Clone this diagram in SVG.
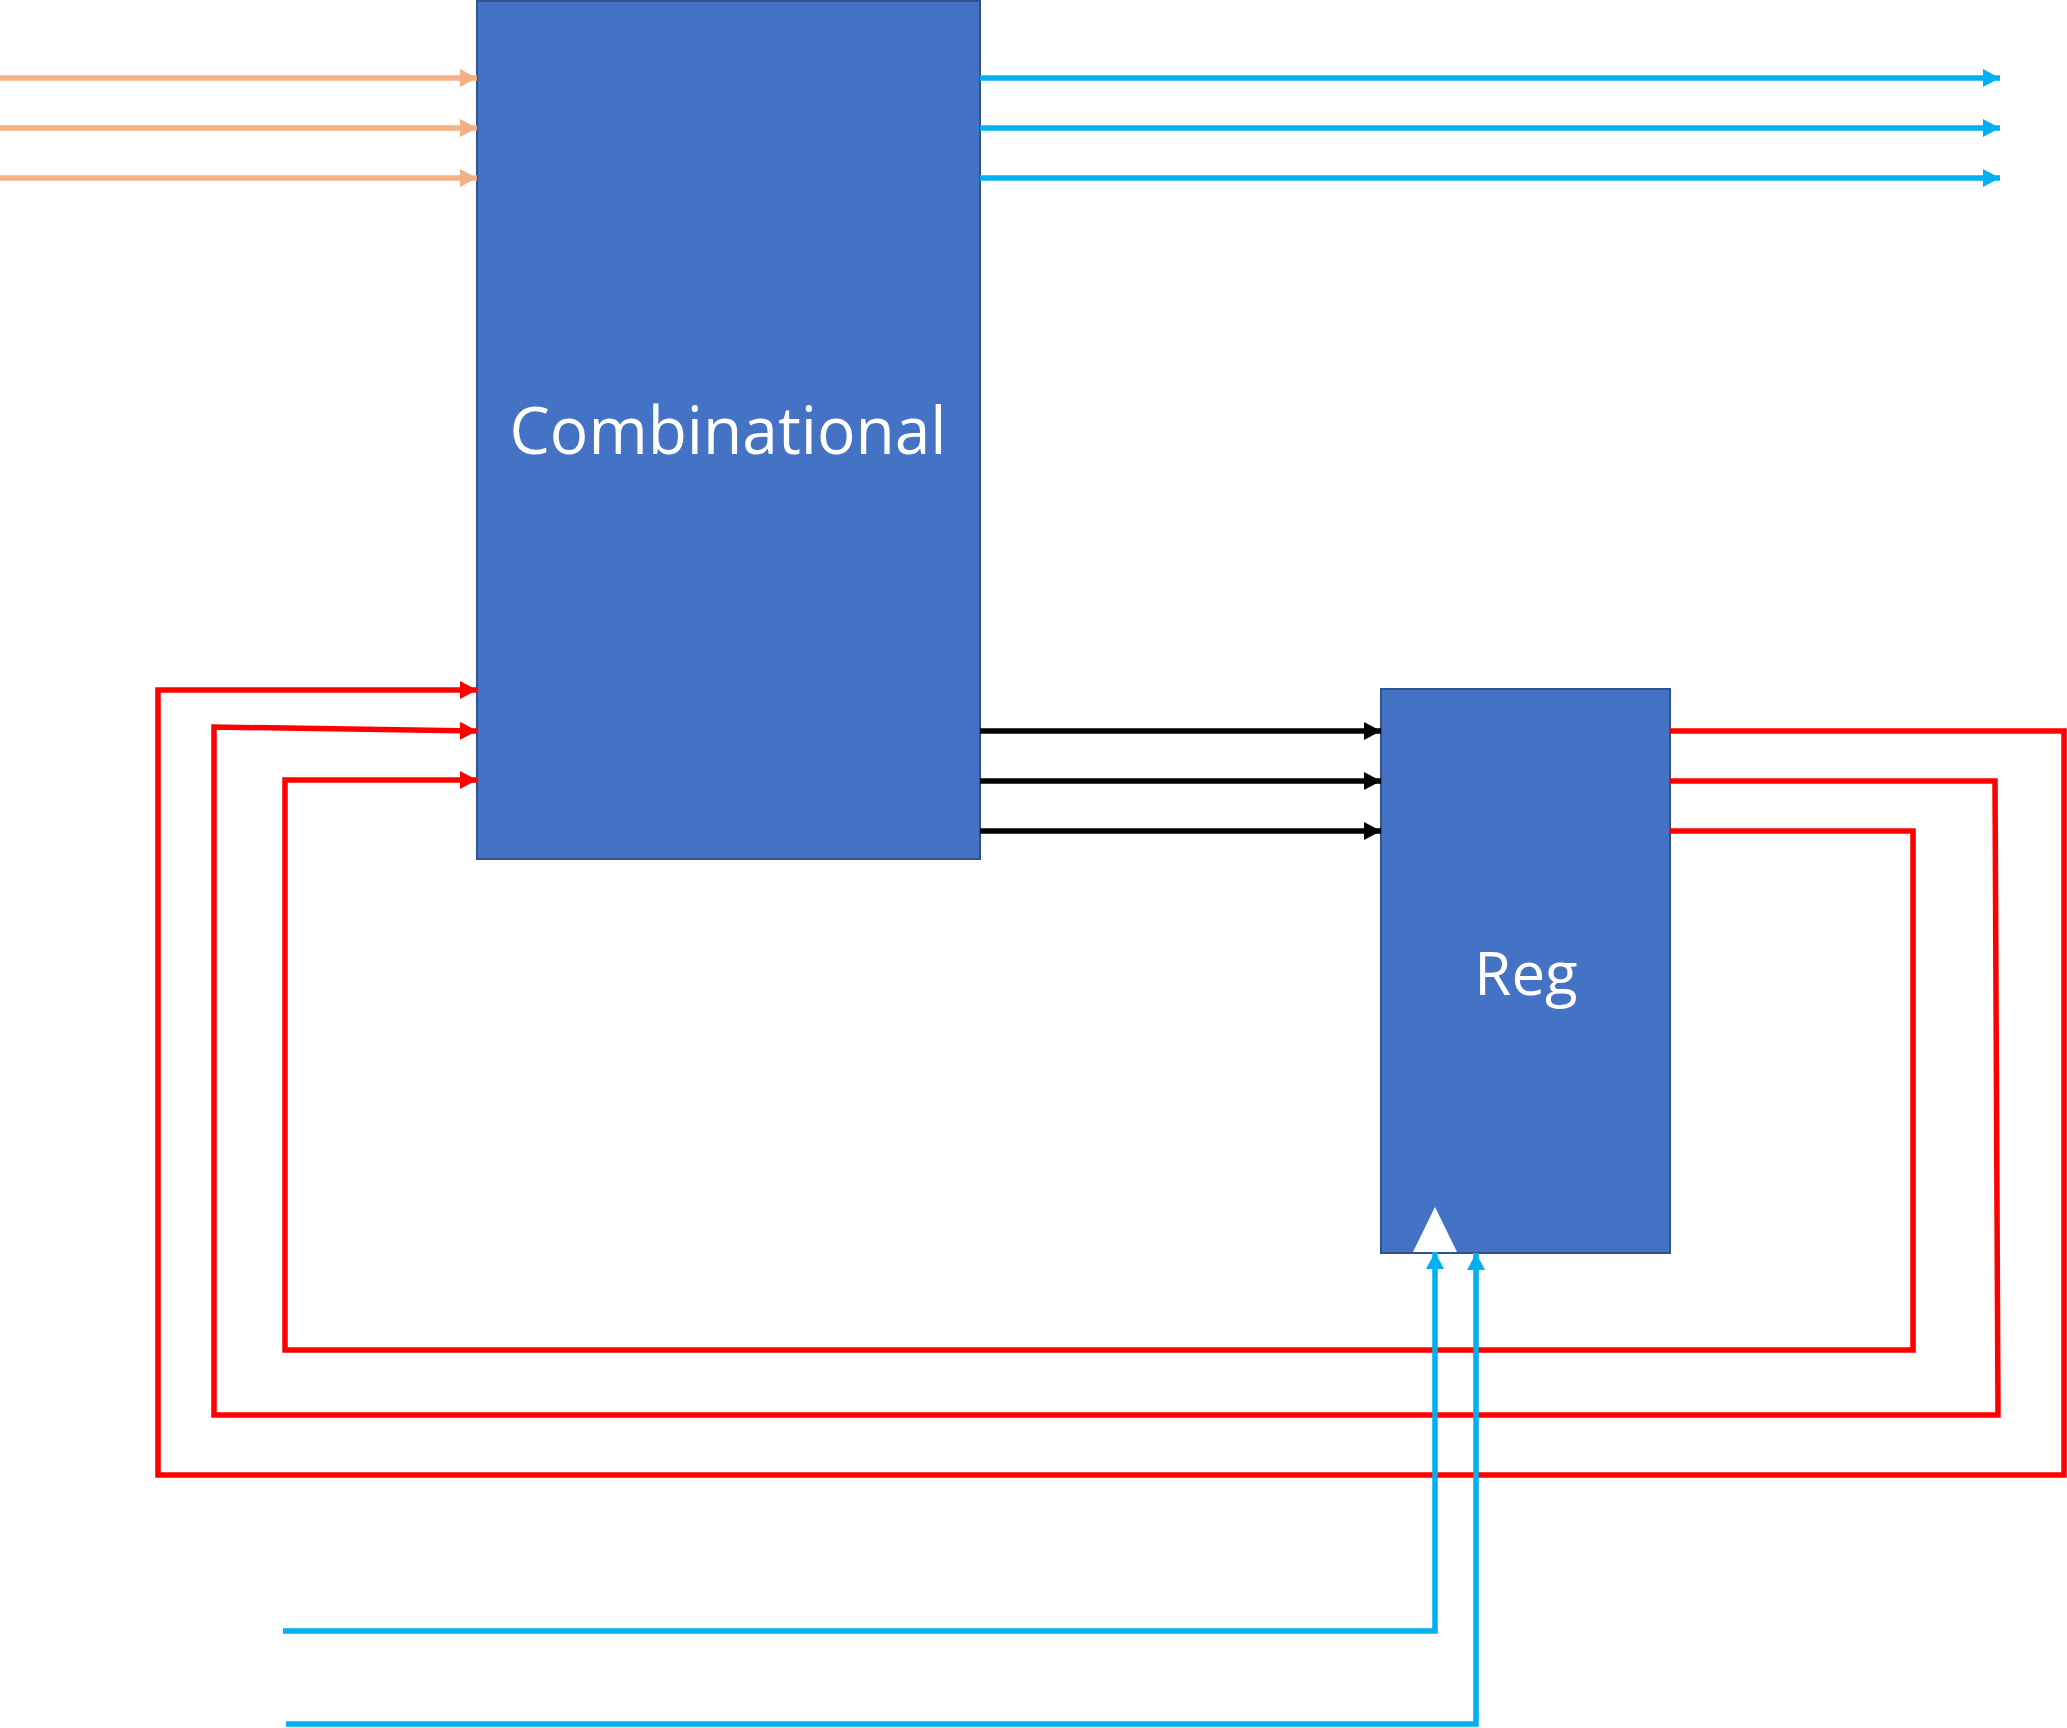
<svg xmlns="http://www.w3.org/2000/svg" width="2067" height="1728" viewBox="0 0 2067 1728">
  <style>
    .box { fill: #4472C4; stroke: #2F528F; stroke-width: 2; }
    .lbl { fill: #FFFFFF; font-family: "Open Sans", "Liberation Sans", sans-serif; text-anchor: middle; }
    .w { fill: none; stroke-width: 5.5; stroke-linejoin: miter; stroke-linecap: butt; }
    .or { stroke: #F4B183; }
    .bl { stroke: #00B0F0; }
    .bk { stroke: #000000; }
    .rd { stroke: #FF0000; }
  </style>
  <defs>
    <marker id="aOr" markerUnits="userSpaceOnUse" markerWidth="18" markerHeight="18" refX="17" refY="9" orient="auto"><path d="M0,0 L17,9 L0,18 z" fill="#F4B183"/></marker>
    <marker id="aBl" markerUnits="userSpaceOnUse" markerWidth="18" markerHeight="18" refX="17" refY="9" orient="auto"><path d="M0,0 L17,9 L0,18 z" fill="#00B0F0"/></marker>
    <marker id="aBk" markerUnits="userSpaceOnUse" markerWidth="18" markerHeight="18" refX="17" refY="9" orient="auto"><path d="M0,0 L17,9 L0,18 z" fill="#000000"/></marker>
    <marker id="aRd" markerUnits="userSpaceOnUse" markerWidth="18" markerHeight="18" refX="17" refY="9" orient="auto"><path d="M0,0 L17,9 L0,18 z" fill="#FF0000"/></marker>
  </defs>
  <rect width="2067" height="1728" fill="#FFFFFF"/>
  <g id="combinational">
    <rect class="box" x="477" y="1" width="503" height="858"/>
    <text class="lbl" x="728" y="454" font-size="66" textLength="437" lengthAdjust="spacingAndGlyphs">Combinational</text>
  </g>
  <g id="reg">
    <rect class="box" x="1381" y="689" width="289" height="564"/>
    <polygon points="1435,1207 1413,1252 1457,1252" fill="#FFFFFF"/>
    <text class="lbl" x="1526" y="995" font-size="60">Reg</text>
  </g>
  <g id="connectors">
    <line class="w or" x1="0" y1="78" x2="477" y2="78" marker-end="url(#aOr)"/>
    <line class="w or" x1="0" y1="128" x2="477" y2="128" marker-end="url(#aOr)"/>
    <line class="w or" x1="0" y1="178" x2="477" y2="178" marker-end="url(#aOr)"/>
    <line class="w bl" x1="980" y1="78" x2="2000" y2="78" marker-end="url(#aBl)"/>
    <line class="w bl" x1="980" y1="128" x2="2000" y2="128" marker-end="url(#aBl)"/>
    <line class="w bl" x1="980" y1="178" x2="2000" y2="178" marker-end="url(#aBl)"/>
    <line class="w bk" x1="980" y1="731" x2="1381" y2="731" marker-end="url(#aBk)"/>
    <line class="w bk" x1="980" y1="781" x2="1381" y2="781" marker-end="url(#aBk)"/>
    <line class="w bk" x1="980" y1="831" x2="1381" y2="831" marker-end="url(#aBk)"/>
    <polyline class="w rd" points="1670,731 2064,731 2064,1475 158,1475 158,690 477,690" marker-end="url(#aRd)"/>
    <polyline class="w rd" points="1670,781 1995,781 1998,1415 214,1415 214,727 477,731" marker-end="url(#aRd)"/>
    <polyline class="w rd" points="1670,831 1913,831 1913,1350 285,1350 285,780 477,780" marker-end="url(#aRd)"/>
    <polyline class="w bl" points="283,1631 1435,1631 1435,1252" marker-end="url(#aBl)"/>
    <polyline class="w bl" points="286,1724 1476,1724 1476,1253" marker-end="url(#aBl)"/>
  </g>
</svg>
